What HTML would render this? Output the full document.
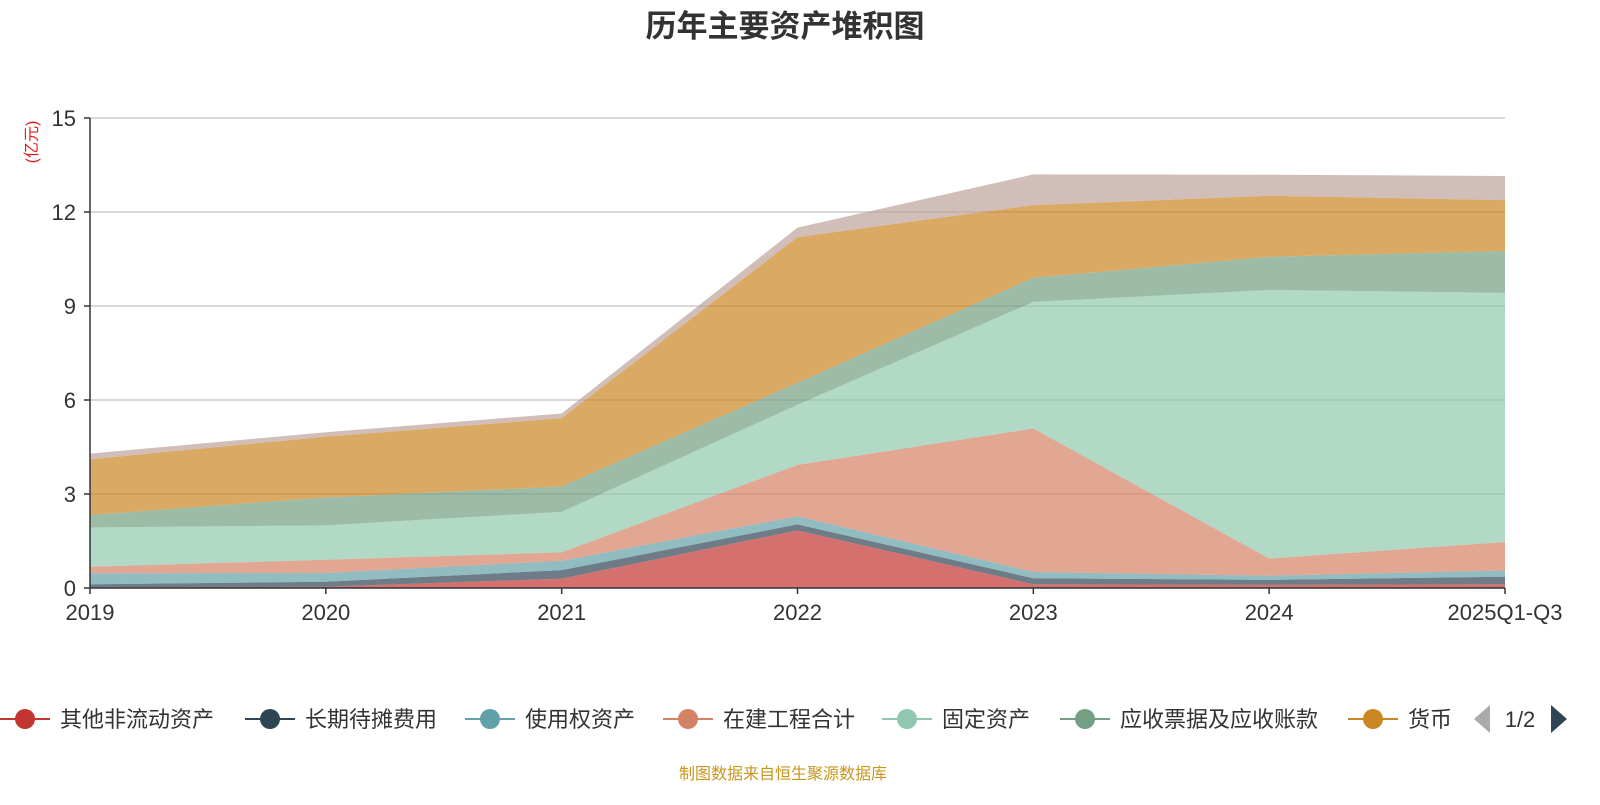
<!DOCTYPE html>
<html><head><meta charset="utf-8">
<style>
body{margin:0;background:#fff;width:1600px;height:800px;overflow:hidden;font-family:"Liberation Sans","Noto Sans CJK SC",sans-serif;}
svg text{font-family:"Liberation Sans","Noto Sans CJK SC",sans-serif;}
</style></head>
<body>
<svg id="chart" width="1600" height="800">
<text x="785" y="37" text-anchor="middle" font-size="31" font-weight="bold" fill="#333">历年主要资产堆积图</text>
<text transform="translate(37,142) rotate(-90)" text-anchor="middle" font-size="16" fill="#e02020">(亿元)</text>
<g id="grid"></g><g id="areas"></g><g id="axes"></g><g id="legend"></g>
<text x="783" y="779" text-anchor="middle" font-size="16" fill="#c8961e">制图数据来自恒生聚源数据库</text>
</svg>
<script>
const categories=["2019","2020","2021","2022","2023","2024","2025Q1-Q3"];
const yTicks=[0,3,6,9,12,15];
const seriesNames=["其他非流动资产","长期待摊费用","使用权资产","在建工程合计","固定资产","应收票据及应收账款","货币","存货"];
const sOther=[0.02,0.04,0.3,1.84,0.12,0.1,0.12];
const sLongTerm=[0.10,0.16,0.27,0.19,0.19,0.16,0.24];
const sRightUse=[0.35,0.28,0.30,0.26,0.20,0.13,0.20];
const sConstruction=[0.21,0.42,0.27,1.64,4.58,0.55,0.91];
const sFixed=[1.25,1.10,1.29,1.92,4.04,8.57,7.95];
const sReceivable=[0.40,0.89,0.81,0.70,0.77,1.06,1.34];
const sCash=[1.78,1.94,2.18,4.65,2.32,1.95,1.62];
const sInventory=[0.18,0.14,0.15,0.30,0.98,0.67,0.77];
const colors=["#c23531","#2f4554","#61a0a8","#d48265","#91c7ae","#749f83","#ca8622","#bda29a"];
const seriesList=[sOther,sLongTerm,sRightUse,sConstruction,sFixed,sReceivable,sCash,sInventory];
const NS="http://www.w3.org/2000/svg";
const X0=90,X1=1505,Y0=588,Y1=118,YMAX=15;
const xs=i=>X0+(X1-X0)*i/(categories.length-1);
const ys=v=>Y0-(Y0-Y1)*v/YMAX;
function mk(tag,attrs,parent){const e=document.createElementNS(NS,tag);for(const k in attrs)e.setAttribute(k,attrs[k]);parent.appendChild(e);return e;}
const grid=document.getElementById('grid'),areas=document.getElementById('areas'),axes=document.getElementById('axes'),legend=document.getElementById('legend');
yTicks.forEach(t=>{
 if(t>0){const l=mk('line',{x1:X0,x2:X1,y1:ys(t),y2:ys(t),stroke:'#ccc','stroke-width':1.5},grid);
 
 }
 const tk=mk('line',{x1:X0-6,x2:X0,y1:ys(t),y2:ys(t),stroke:'#333','stroke-width':1.5},axes);
 
 
 const tx=mk('text',{x:X0-14,y:ys(t)+8,'text-anchor':'end','font-size':22,fill:'#333'},axes);tx.textContent=t;
 
 
});
let cum=categories.map(()=>0);
seriesList.forEach((s,k)=>{
 const top=cum.map((c,i)=>c+s[i]);
 let d='M'+categories.map((_,i)=>xs(i)+','+ys(top[i])).join('L');
 for(let i=categories.length-1;i>=0;i--)d+='L'+xs(i)+','+ys(cum[i]);
 d+='Z';
 const p=mk('path',{d:d,fill:colors[k],'fill-opacity':0.7,stroke:'none'},areas);
 
 
 cum=top;
});
const ax=mk('line',{x1:X0,x2:X0,y1:Y1,y2:Y0,stroke:'#333','stroke-width':1.5},axes);


const bx=mk('line',{x1:X0,x2:X1,y1:Y0,y2:Y0,stroke:'#333','stroke-width':1.5},axes);


categories.forEach((c,i)=>{
 const tk=mk('line',{x1:xs(i),x2:xs(i),y1:Y0,y2:Y0+6,stroke:'#333','stroke-width':1.5},axes);
 
 
 const tx=mk('text',{x:xs(i),y:Y0+32,'text-anchor':'middle','font-size':22,fill:'#333'},axes);tx.textContent=c;
 
 
});
const legX=[0,245,465,663,882,1060,1348];
legX.forEach((lx,k)=>{
 const g=mk('g',{},legend);
 
 
 mk('line',{x1:lx,x2:lx+50,y1:719,y2:719,stroke:colors[k],'stroke-width':2},g);
 mk('circle',{cx:lx+25,cy:719,r:10,fill:colors[k]},g);
 const t=mk('text',{x:lx+60,y:727,'font-size':22,fill:'#333'},g);t.textContent=seriesNames[k];
});
const pl=mk('path',{d:'M1490,705L1474,719L1490,733Z',fill:'#aaa'},legend);


const pt=mk('text',{x:1520,y:727,'text-anchor':'middle','font-size':22,fill:'#333'},legend);pt.textContent='1/2';


const pn=mk('path',{d:'M1551,705L1567,719L1551,733Z',fill:'#2f4554'},legend);


</script>
</body></html>
